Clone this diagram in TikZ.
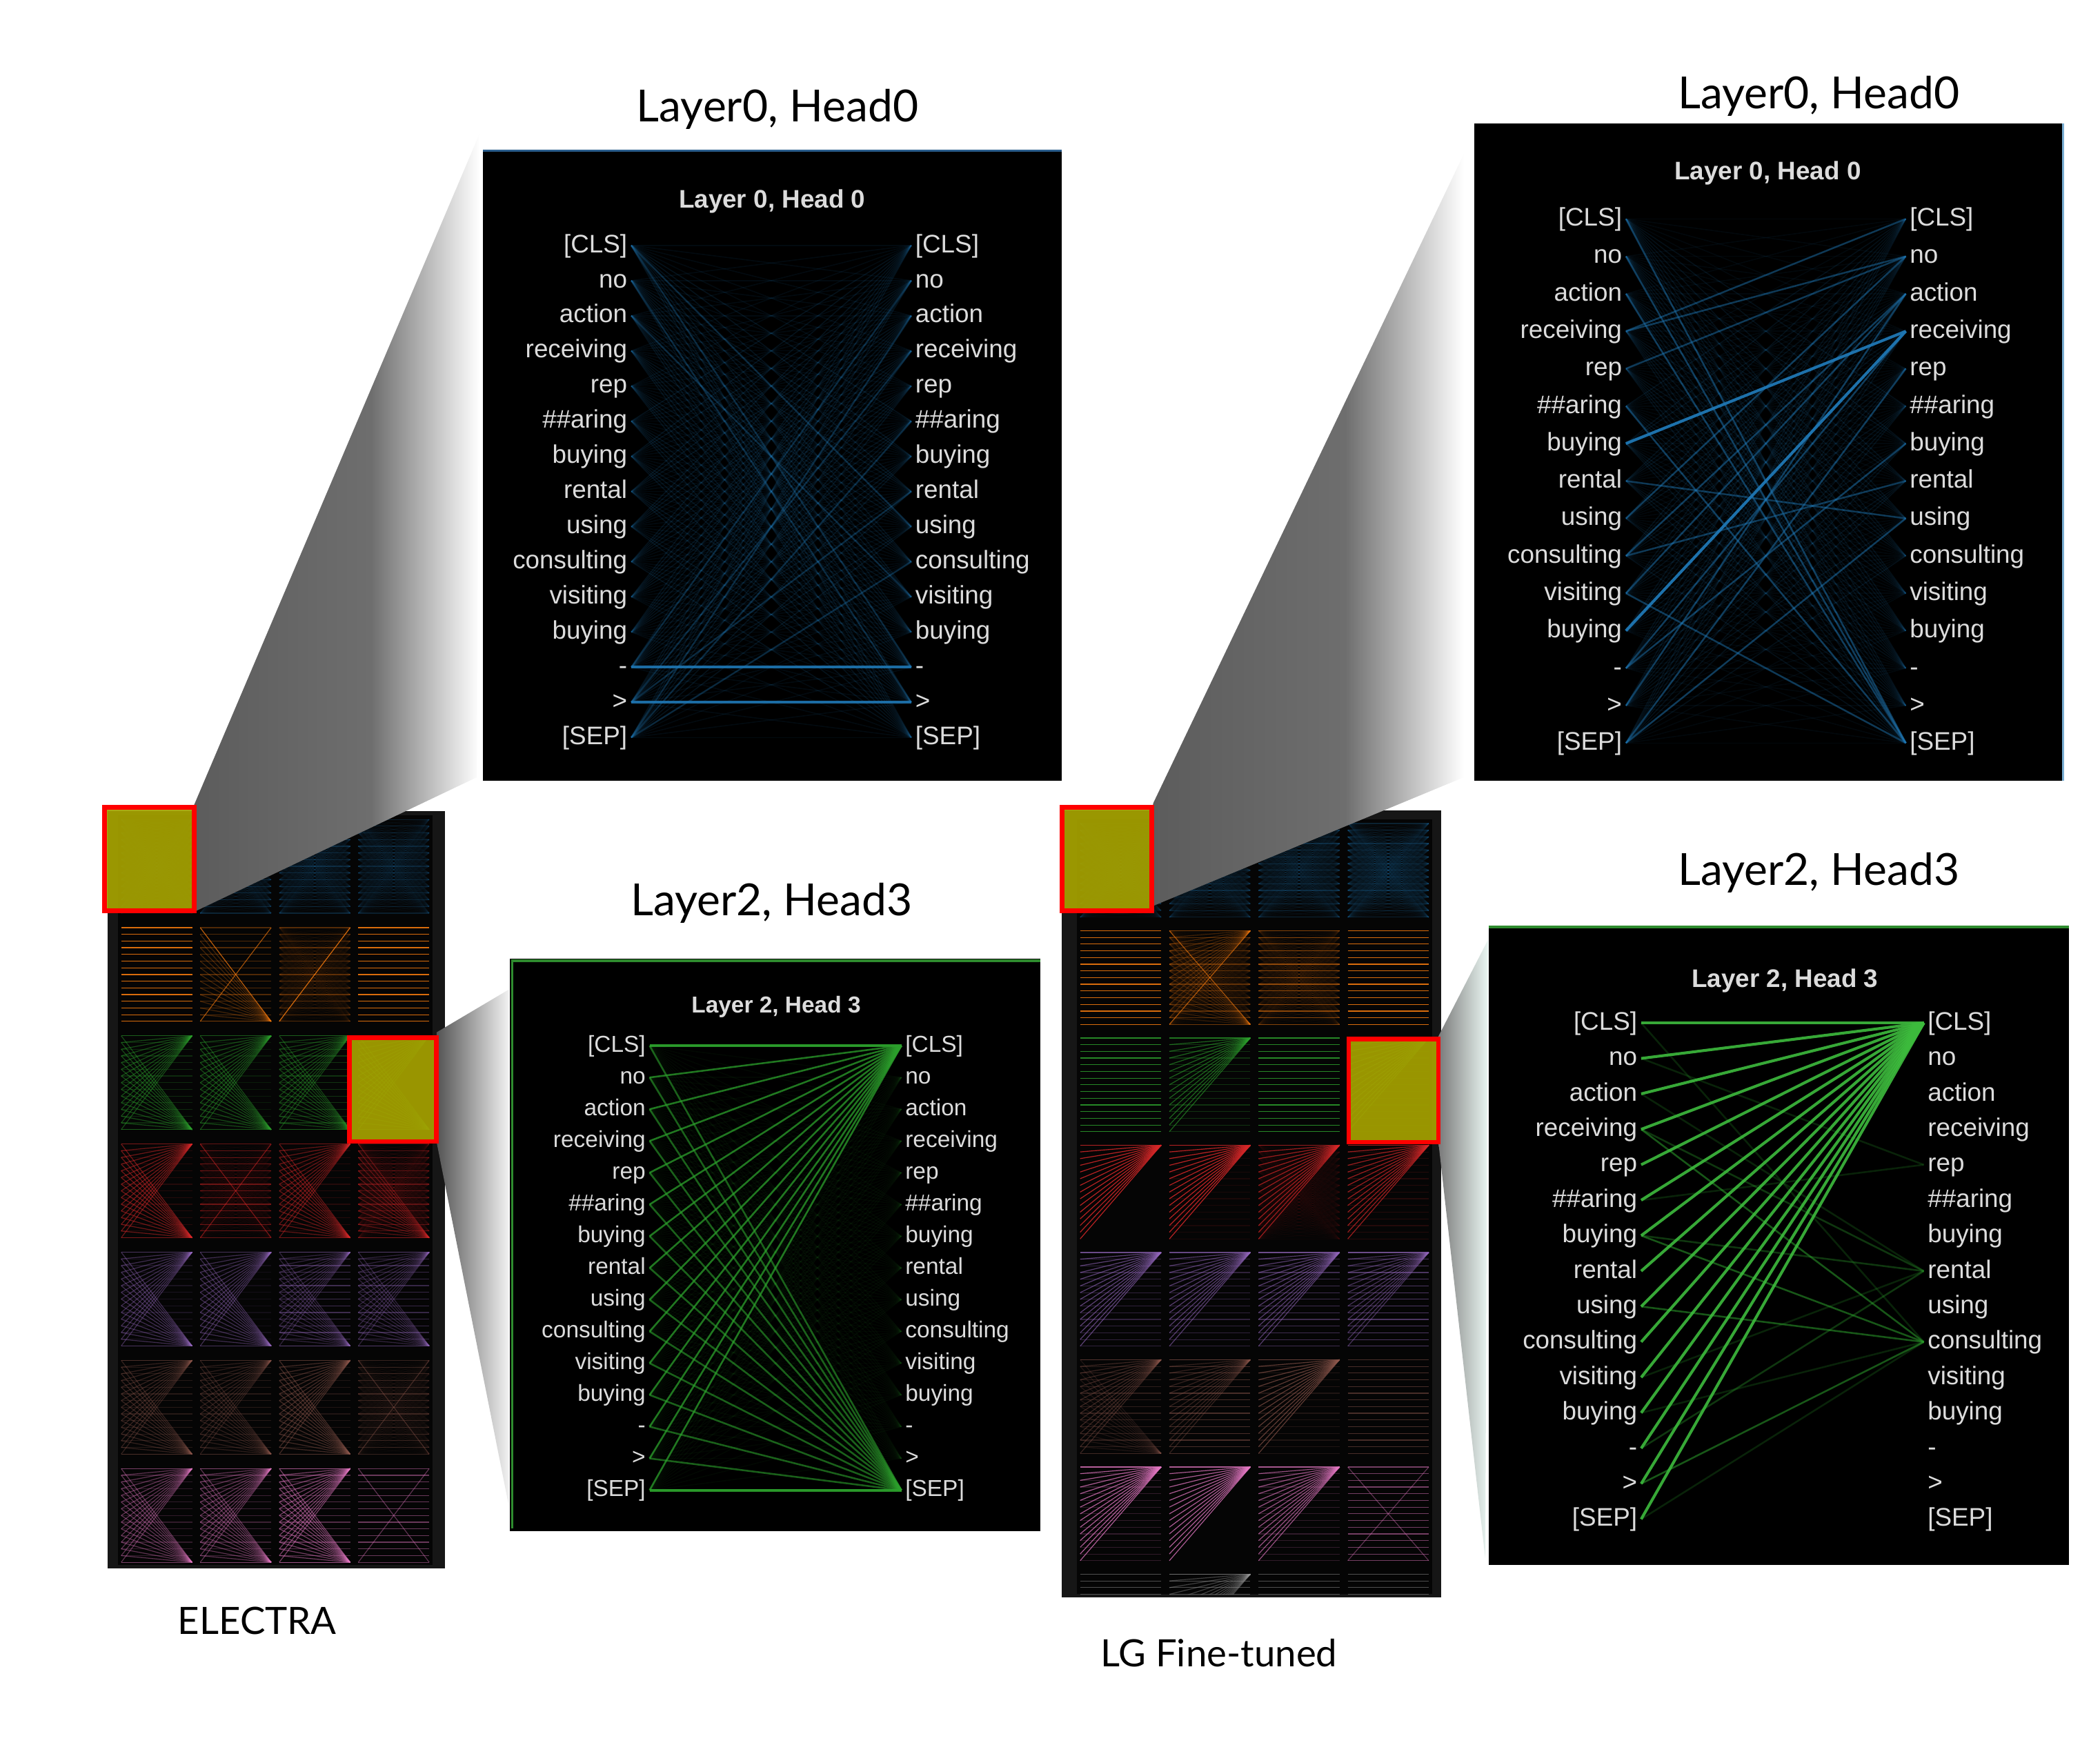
\documentclass[tikz,border=0pt]{standalone}
\usepackage{fontspec}
\setmainfont{Liberation Sans}
\newfontfamily\tokfont{Liberation Sans}
\newfontfamily\capfont{Lato}
\usetikzlibrary{calc}

\definecolor{cBlue}{HTML}{1F77B4}
\definecolor{cOrange}{HTML}{FF7F0E}
\definecolor{cGreen}{HTML}{2CA02C}
\definecolor{cRed}{HTML}{D62728}
\definecolor{cPurple}{HTML}{9467BD}
\definecolor{cBrown}{HTML}{8C564B}
\definecolor{cPink}{HTML}{E377C2}
\definecolor{cGray}{HTML}{9A9A9A}
\definecolor{cBright}{HTML}{3DBB3D}
\definecolor{tokcol}{HTML}{DCDCDC}
\definecolor{frameCol}{HTML}{161616}
\definecolor{hiYellow}{HTML}{A6A200}
\definecolor{hiRed}{HTML}{FF0000}
\definecolor{wDark}{HTML}{5C5C5C}
\definecolor{wMid}{HTML}{6E6E6E}
\definecolor{wTwoA}{HTML}{545454}
\definecolor{wTwoB}{HTML}{F2F2F2}
\definecolor{wFourA}{HTML}{7A7A7A}
\definecolor{wFourB}{HTML}{EAF6F2}
\definecolor{panelBlue}{HTML}{2A5D8C}
\definecolor{panelGreen}{HTML}{2E8B2E}

\pgfdeclarehorizontalshading{wedgeshade}{100bp}{color(0bp)=(wDark); color(25bp)=(wDark); color(56bp)=(wMid); color(75bp)=(white); color(100bp)=(white)}

\newcommand{\tokenlist}{{[CLS]},no,action,receiving,rep,{\#\#aring},buying,rental,using,consulting,visiting,buying,-,>,{[SEP]}}

% attention panel tokens: #1 prefix, #2 x of left text end, #3 x of right text start, #4 y0, #5 dy, #6 font size, #7 text height
\newcommand{\attnpanel}[7]{%
  \foreach \tokname [count=\ti from 0] in \tokenlist {%
    \node[tok, font=\tokfont\fontsize{#6}{#6}\selectfont, text height=#7, anchor=east] (#1L\ti) at (#2, {#4+\ti*#5}) {\tokname};
    \node[tok, font=\tokfont\fontsize{#6}{#6}\selectfont, text height=#7, anchor=west] (#1R\ti) at (#3, {#4+\ti*#5}) {\tokname};
  }}

% thumbnail cell: #1 name, #2 x0, #3 y0, #4 x1, #5 y1
\newcommand{\gcell}[5]{%
  \foreach \tk in {0,...,14} {%
    \coordinate (#1L\tk) at (#2+1.5, {#3+2+\tk*(#5-#3-4)/14});
    \coordinate (#1R\tk) at (#4-1.5, {#3+2+\tk*(#5-#3-4)/14});
  }}
\newcommand{\pH}[3]{\foreach \tk in {0,...,14}{\draw[#2,gline,opacity=#3] (#1L\tk) -- (#1R\tk);}}
\newcommand{\pC}[3]{\foreach \tk in {0,...,14}{\draw[#2,gline,opacity=#3] (#1L\tk) -- (#1R0);}}
\newcommand{\pS}[3]{\foreach \tk in {0,...,14}{\draw[#2,gline,opacity=#3] (#1L\tk) -- (#1R14);}}
\newcommand{\pA}[3]{\foreach \tk in {0,...,14}{\foreach \tm in {0,...,14}{\draw[#2,gline,opacity=#3] (#1L\tk) -- (#1R\tm);}}}
\newcommand{\pX}[3]{\draw[#2,gline,opacity=#3] (#1L0) -- (#1R14); \draw[#2,gline,opacity=#3] (#1L14) -- (#1R0);}

\begin{document}
\begin{tikzpicture}[x=0.02cm, y=-0.02cm,
  gline/.style={line width=0.35pt},
  tok/.style={text=tokcol, inner xsep=1.5pt, inner ysep=0pt, text depth=0pt},
  ptitle/.style={text=tokcol, inner sep=0pt, font=\tokfont\bfseries\fontsize{10.8}{12}\selectfont},
  bigtitle/.style={inner sep=0pt, font=\capfont\fontsize{18.8}{20}\selectfont},
  modlabel/.style={inner sep=0pt, font=\capfont\fontsize{16}{18}\selectfont},
  hibox/.style={fill=hiYellow, fill opacity=0.92, draw=hiRed, draw opacity=1, line width=2pt},
  weak/.style={line width=0.45pt},
  mid/.style={line width=0.75pt},
  strong/.style={line width=1.2pt}]

\useasboundingbox (0,0) rectangle (1568,1311);
\fill[white] (0,0) rectangle (1568,1311);

%================ ELECTRA thumbnail grid ================
\fill[frameCol] (80.5,606) rectangle (332.3,1171.5);
\fill[black!98!white] (88,609) rectangle (323,1169);
\foreach \rowi in {1,...,7}{\foreach \coli in {1,...,4}{%
  \pgfmathsetmacro\xa{89+(\coli-1)*59}
  \pgfmathsetmacro\xb{\xa+56}
  \pgfmathsetmacro\ya{610+(\rowi-1)*80.8}
  \pgfmathsetmacro\yb{\ya+74}
  \gcell{e\rowi\coli}{\xa}{\ya}{\xb}{\yb}
}}
% row 1 blue
\pA{e11}{cBlue}{0.05} \pA{e12}{cBlue}{0.05} \pH{e12}{cBlue}{0.25}
\pA{e13}{cBlue}{0.05} \pH{e13}{cBlue}{0.25} \pA{e14}{cBlue}{0.05} \pH{e14}{cBlue}{0.2}
% row 2 orange
\pH{e21}{cOrange}{0.85}
\pH{e22}{cOrange}{0.3} \pX{e22}{cOrange}{0.6} \pS{e22}{cOrange}{0.25}
\pH{e23}{cOrange}{0.3} \pA{e23}{cOrange}{0.03} \draw[cOrange,gline,opacity=0.8] (e23L14) -- (e23R0);
\pH{e24}{cOrange}{0.85}
% row 3 green
\pC{e31}{cGreen}{0.45} \pS{e31}{cGreen}{0.45} \pH{e31}{cGreen}{0.25}
\pC{e32}{cGreen}{0.45} \pS{e32}{cGreen}{0.45} \pH{e32}{cGreen}{0.15}
\pC{e33}{cGreen}{0.4} \pS{e33}{cGreen}{0.4} \pH{e33}{cGreen}{0.3}
\pC{e34}{cGreen}{0.5} \pS{e34}{cGreen}{0.5}
% row 4 red
\pC{e41}{cRed}{0.5} \pS{e41}{cRed}{0.5} \pH{e41}{cRed}{0.15}
\pH{e42}{cRed}{0.45} \pX{e42}{cRed}{0.5} \pA{e42}{cRed}{0.03}
\pC{e43}{cRed}{0.45} \pS{e43}{cRed}{0.45} \pH{e43}{cRed}{0.15}
\pH{e44}{cRed}{0.35} \pS{e44}{cRed}{0.35} \pA{e44}{cRed}{0.05}
% row 5 purple
\pC{e51}{cPurple}{0.4} \pS{e51}{cPurple}{0.4} \pH{e51}{cPurple}{0.15}
\pC{e52}{cPurple}{0.4} \pS{e52}{cPurple}{0.4} \pH{e52}{cPurple}{0.1}
\pH{e53}{cPurple}{0.4} \pC{e53}{cPurple}{0.3} \pS{e53}{cPurple}{0.3}
\pH{e54}{cPurple}{0.35} \pC{e54}{cPurple}{0.3} \pS{e54}{cPurple}{0.3}
% row 6 brown
\pC{e61}{cBrown}{0.35} \pS{e61}{cBrown}{0.35} \pH{e61}{cBrown}{0.25}
\pC{e62}{cBrown}{0.3} \pS{e62}{cBrown}{0.3} \pH{e62}{cBrown}{0.25}
\pC{e63}{cBrown}{0.45} \pS{e63}{cBrown}{0.45} \pH{e63}{cBrown}{0.2}
\pH{e64}{cBrown}{0.35} \pA{e64}{cBrown}{0.04} \pX{e64}{cBrown}{0.4}
% row 7 pink
\pC{e71}{cPink}{0.4} \pS{e71}{cPink}{0.4} \pH{e71}{cPink}{0.2}
\pC{e72}{cPink}{0.4} \pS{e72}{cPink}{0.4} \pH{e72}{cPink}{0.25}
\pC{e73}{cPink}{0.5} \pS{e73}{cPink}{0.5} \pH{e73}{cPink}{0.35}
\pH{e74}{cPink}{0.45} \pX{e74}{cPink}{0.4}

%================ LG thumbnail grid ================
\fill[frameCol] (793,605) rectangle (1076,1193);
\fill[black!98!white] (804,612) rectangle (1069.5,1190.5);
\begin{scope}
\clip (793,600) rectangle (1076,1190.5);
\foreach \rowi in {1,...,8}{\foreach \coli in {1,...,4}{%
  \pgfmathsetmacro\xa{805+(\coli-1)*66.6}
  \pgfmathsetmacro\xb{\xa+63.5}
  \pgfmathsetmacro\ya{613+(\rowi-1)*80.1}
  \pgfmathsetmacro\yb{\ya+74}
  \gcell{g\rowi\coli}{\xa}{\ya}{\xb}{\yb}
}}
% row 1 blue
\pA{g11}{cBlue}{0.06} \pA{g12}{cBlue}{0.06} \pH{g12}{cBlue}{0.2}
\pA{g13}{cBlue}{0.06} \pH{g13}{cBlue}{0.25} \pA{g14}{cBlue}{0.08} \pH{g14}{cBlue}{0.2}
% row 2 orange
\pH{g21}{cOrange}{0.85}
\pA{g22}{cOrange}{0.04} \pC{g22}{cOrange}{0.2} \pS{g22}{cOrange}{0.15} \pH{g22}{cOrange}{0.3} \pX{g22}{cOrange}{0.5}
\pH{g23}{cOrange}{0.5} \pA{g23}{cOrange}{0.04}
\pH{g24}{cOrange}{0.85}
% row 3 green
\pH{g31}{cGreen}{0.85}
\pC{g32}{cGreen}{0.6} \pH{g32}{cGreen}{0.3}
\pH{g33}{cGreen}{0.85}
\pC{g34}{cGreen}{0.6} \pH{g34}{cGreen}{0.2}
% row 4 red
\pC{g41}{cRed}{0.85}
\pC{g42}{cRed}{0.85} \pH{g42}{cRed}{0.1}
\pC{g43}{cRed}{0.7} \pA{g43}{cRed}{0.03}
\pC{g44}{cRed}{0.7} \pH{g44}{cRed}{0.15}
% row 5 purple
\pC{g51}{cPurple}{0.6} \pH{g51}{cPurple}{0.3}
\pC{g52}{cPurple}{0.55} \pH{g52}{cPurple}{0.3}
\pC{g53}{cPurple}{0.55} \pH{g53}{cPurple}{0.4}
\pC{g54}{cPurple}{0.45} \pH{g54}{cPurple}{0.5}
% row 6 brown
\pC{g61}{cBrown}{0.4} \pS{g61}{cBrown}{0.2} \pH{g61}{cBrown}{0.3}
\pH{g62}{cBrown}{0.5} \pC{g62}{cBrown}{0.35}
\pC{g63}{cBrown}{0.65} \pH{g63}{cBrown}{0.2}
\pH{g64}{cBrown}{0.5}
% row 7 pink
\pC{g71}{cPink}{0.75} \pH{g71}{cPink}{0.2}
\pC{g72}{cPink}{0.75}
\pC{g73}{cPink}{0.65} \pH{g73}{cPink}{0.2}
\pH{g74}{cPink}{0.5} \pX{g74}{cPink}{0.4}
% row 8 gray (cut off)
\pH{g81}{cGray}{0.5} \pH{g82}{cGray}{0.5} \pC{g82}{cGray}{0.4} \pH{g83}{cGray}{0.5} \pH{g84}{cGray}{0.5}
\end{scope}

%================ zoom wedges ================
\coordinate (w1a) at (145,601);  \coordinate (w1b) at (358,100);
\coordinate (w1c) at (356,580.5); \coordinate (w1d) at (145,681);
\shade[shading=wedgeshade] (w1a) -- (w1b) -- (w1c) -- (w1d) -- cycle;
\coordinate (w2a) at (326,771);  \coordinate (w2b) at (380,739);
\coordinate (w2c) at (380,1125); \coordinate (w2d) at (326,853);
\shade[left color=wTwoA, right color=wTwoB] (w2a) -- (w2b) -- (w2c) -- (w2d) -- cycle;
\coordinate (w3a) at (861,600);  \coordinate (w3b) at (1093,115);
\coordinate (w3c) at (1093,580.5); \coordinate (w3d) at (860,677);
\shade[shading=wedgeshade] (w3a) -- (w3b) -- (w3c) -- (w3d) -- cycle;
\coordinate (w4a) at (1074,774); \coordinate (w4b) at (1111,702);
\coordinate (w4c) at (1109,1164); \coordinate (w4d) at (1074,853);
\shade[left color=wFourA, right color=wFourB] (w4a) -- (w4b) -- (w4c) -- (w4d) -- cycle;

%================ highlight boxes ================
\path[hibox] (78,603) rectangle (145,680);
\path[hibox] (261,775) rectangle (326,852.5);
\path[hibox] (793,603) rectangle (860,680);
\path[hibox] (1007,776) rectangle (1074,853);

%================ Panel 1: ELECTRA Layer 0 Head 0 ================
\fill[black] (360.6,111.8) rectangle (792.8,583);
\draw[panelBlue, line width=0.8pt] (360.6,112.6) -- (792.8,112.6);
\node[ptitle, anchor=base] (p1t) at (576.5,155.5) {Layer 0, Head 0};
\attnpanel{p1}{471.3}{680.5}{183.3}{26.25}{10.8}{6pt}
\foreach \ti in {0,...,14}{\foreach \tj in {0,...,14}{%
  \pgfmathsetmacro\op{ifthenelse(abs(\ti-\tj)>4,0.15,0.09)}%
  \draw[cBlue, weak, opacity=\op] (p1L\ti.east) -- (p1R\tj.west);}}
\draw[cBlue, strong, opacity=0.9] (p1L12.east) -- (p1R12.west);
\draw[cBlue, strong, opacity=0.9] (p1L13.east) -- (p1R13.west);
\foreach \ti/\tj in {14/2,14/5,13/3,12/1,0/12,1/13,0/8,2/10,14/9,13/7}{%
  \draw[cBlue, mid, opacity=0.25] (p1L\ti.east) -- (p1R\tj.west);}

%================ Panel 2: ELECTRA Layer 2 Head 3 ================
\fill[black] (380.7,716) rectangle (776.9,1143.6);
\draw[panelGreen, line width=1pt] (382.5,1141.5) -- (382.5,717.5) -- (776.9,717.5);
\node[ptitle, font=\tokfont\bfseries\fontsize{9.8}{11}\selectfont, anchor=base] (p2t) at (579.5,756.5) {Layer 2, Head 3};
\attnpanel{p2}{485}{673}{781}{23.71}{9.8}{5.4pt}
\foreach \ti in {0,...,14}{\foreach \tj in {1,...,13}{%
  \draw[cGreen, weak, opacity=0.05] (p2L\ti.east) -- (p2R\tj.west);}}
\foreach \ti in {0,...,14}{%
  \draw[cGreen, mid, opacity=0.75] (p2L\ti.east) -- (p2R0.west);
  \draw[cGreen, mid, opacity=0.6] (p2L\ti.east) -- (p2R14.west);}
\draw[cGreen, strong, opacity=0.9] (p2L0.east) -- (p2R0.west);
\draw[cGreen, strong, opacity=0.9] (p2L14.east) -- (p2R14.west);

%================ Panel 3: LG Layer 0 Head 0 ================
\fill[black] (1100.9,92) rectangle (1541,583);
\draw[cBlue!60!white, line width=0.8pt] (1540.5,92) -- (1540.5,583);
\node[ptitle, anchor=base] (p3t) at (1320,134) {Layer 0, Head 0};
\attnpanel{p3}{1214}{1423}{163.5}{27.96}{10.8}{6pt}
\foreach \ti in {0,...,14}{\foreach \tj in {0,...,14}{%
  \pgfmathsetmacro\op{ifthenelse(abs(\ti-\tj)>4,0.13,0.07)}%
  \draw[cBlue, weak, opacity=\op] (p3L\ti.east) -- (p3R\tj.west);}}
\foreach \ti/\tj in {3/0,3/1,4/1,8/1,9/2,10/2,7/8,9/7,0/14,1/14,2/14,5/14,10/14,12/3,13/2,14/4,14/8,12/6}{%
  \draw[cBlue, mid, opacity=0.45] (p3L\ti.east) -- (p3R\tj.west);}
\draw[cBlue, strong, opacity=0.95] (p3L6.east) -- (p3R3.west);
\draw[cBlue, strong, opacity=0.95] (p3L11.east) -- (p3R3.west);

%================ Panel 4: LG Layer 2 Head 3 ================
\fill[black] (1111.8,691.4) rectangle (1545,1169);
\draw[panelGreen, line width=1pt] (1111.8,692.2) -- (1545,692.2);
\node[ptitle, anchor=base] (p4t) at (1332.7,737.5) {Layer 2, Head 3};
\attnpanel{p4}{1225.4}{1436.4}{764}{26.47}{10.8}{6pt}
\foreach \ti/\tj in {0/9,2/7,5/4,14/9,1/4,10/7,11/9}{%
  \draw[cGreen, mid, opacity=0.22] (p4L\ti.east) -- (p4R\tj.west);}
\foreach \ti/\tj in {3/9,6/9,8/9,13/9}{%
  \draw[cGreen, mid, opacity=0.55] (p4L\ti.east) -- (p4R\tj.west);}
\foreach \ti/\tj in {3/7,6/7,12/7}{%
  \draw[cGreen, mid, opacity=0.35] (p4L\ti.east) -- (p4R\tj.west);}
\foreach \ti in {0,...,14}{%
  \draw[cBright, strong, opacity=0.9] (p4L\ti.east) -- (p4R0.west);}

%================ Titles and labels ================
\node[bigtitle, anchor=base] (t1) at (580.5,91) {Layer0, Head0};
\node[bigtitle, anchor=base] (t2) at (576,684) {Layer2, Head3};
\node[bigtitle, anchor=base] (t3) at (1358,81) {Layer0, Head0};
\node[bigtitle, anchor=base] (t4) at (1358,661) {Layer2, Head3};
\node[modlabel, anchor=base] (l1) at (192,1220.4) {ELECTRA};
\node[modlabel, anchor=base] (l2) at (910,1245) {LG Fine-tuned};
\end{tikzpicture}
\end{document}
